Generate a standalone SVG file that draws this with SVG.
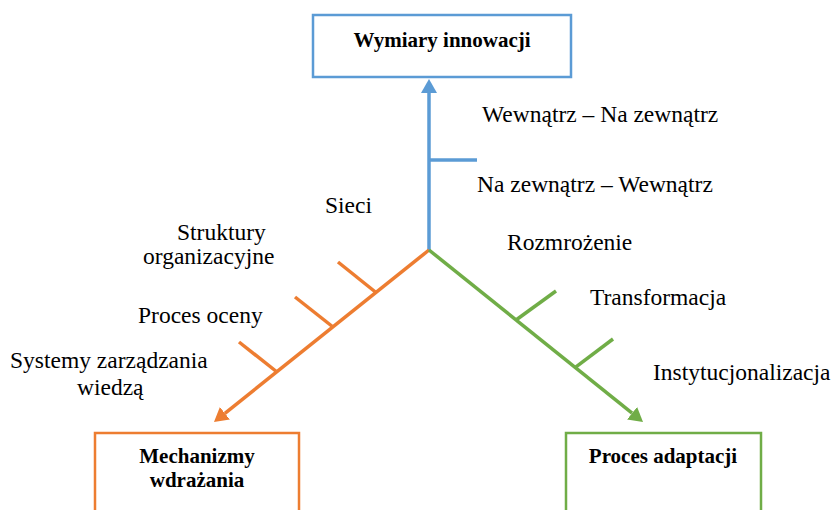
<svg xmlns="http://www.w3.org/2000/svg" width="835" height="510" viewBox="0 0 835 510">
<style>
.lbl{font-family:'Liberation Serif','Times New Roman',serif;font-size:23.5px;fill:#000}
.ttl{font-family:'Liberation Serif','Times New Roman',serif;font-size:21px;font-weight:bold;fill:#000;text-anchor:middle}
.box{fill:#fff;stroke-width:2.5}
.ln{fill:none;stroke-width:3.5}
.blue{stroke:#5B9BD5}
.orange{stroke:#ED7D31}
.green{stroke:#70AD47}
</style>
<defs>
<marker id="ahBlue" viewBox="0 0 14 16" refX="0" refY="8" markerWidth="14" markerHeight="16" markerUnits="userSpaceOnUse" orient="auto"><path d="M0,0 L14,8 L0,16 z" fill="#5B9BD5"/></marker>
<marker id="ahOrange" viewBox="0 0 14 16" refX="0" refY="8" markerWidth="14" markerHeight="16" markerUnits="userSpaceOnUse" orient="auto"><path d="M0,0 L14,8 L0,16 z" fill="#ED7D31"/></marker>
<marker id="ahGreen" viewBox="0 0 14 16" refX="0" refY="8" markerWidth="14" markerHeight="16" markerUnits="userSpaceOnUse" orient="auto"><path d="M0,0 L14,8 L0,16 z" fill="#70AD47"/></marker>
</defs>
<rect width="835" height="510" fill="#fff"/>

<g id="node-wymiary">
<rect class="box blue" x="313" y="15" width="258" height="62"/>
<text class="ttl" x="442" y="47">Wymiary innowacji</text>
</g>
<g id="node-mechanizmy">
<rect class="box orange" x="95" y="433" width="204" height="100"/>
<text class="ttl" x="197" y="463">Mechanizmy</text>
<text class="ttl" x="197" y="487">wdrażania</text>
</g>
<g id="node-adaptacja">
<rect class="box green" x="566" y="433" width="195" height="100"/>
<text class="ttl" x="663" y="463">Proces adaptacji</text>
</g>

<g id="connectors">
<line class="ln blue" x1="429" y1="251" x2="429" y2="93" marker-end="url(#ahBlue)"/>
<line class="ln blue" x1="429" y1="160" x2="477" y2="160"/>
<line class="ln orange" x1="429" y1="250" x2="224.9" y2="413.3" marker-end="url(#ahOrange)"/>
<line class="ln orange" x1="338" y1="262" x2="376" y2="292.5"/>
<line class="ln orange" x1="295" y1="297" x2="333" y2="327"/>
<line class="ln orange" x1="239" y1="342" x2="277" y2="372"/>
<line class="ln green" x1="429" y1="250" x2="632.1" y2="413.2" marker-end="url(#ahGreen)"/>
<line class="ln green" x1="556" y1="291" x2="516" y2="320"/>
<line class="ln green" x1="613" y1="339" x2="575" y2="367.6"/>
</g>

<g id="labels">
<text class="lbl" x="482" y="122">Wewnątrz – Na zewnątrz</text>
<text class="lbl" x="477" y="192">Na zewnątrz – Wewnątrz</text>
<text class="lbl" x="325" y="213">Sieci</text>
<text class="lbl" x="177" y="240">Struktury</text>
<text class="lbl" x="143" y="264">organizacyjne</text>
<text class="lbl" x="138" y="323">Proces oceny</text>
<text class="lbl" x="10" y="368">Systemy zarządzania</text>
<text class="lbl" x="77" y="395">wiedzą</text>
<text class="lbl" x="507" y="250">Rozmrożenie</text>
<text class="lbl" x="590" y="305">Transformacja</text>
<text class="lbl" x="653" y="380">Instytucjonalizacja</text>
</g>
</svg>
